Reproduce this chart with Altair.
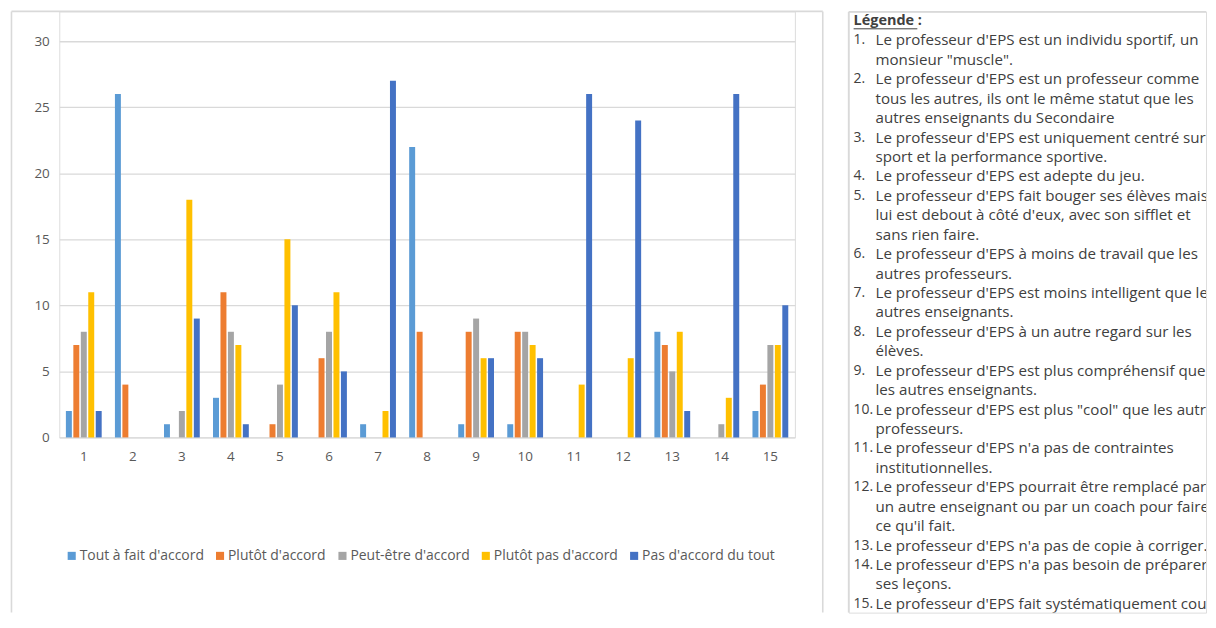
import altair as alt
import pandas as pd

# ---------------- data ----------------
items = [str(i) for i in range(1, 16)]
series = ["Tout à fait d'accord", "Plutôt d'accord", "Peut-être d'accord",
          "Plutôt pas d'accord", "Pas d'accord du tout"]
colors = ["#5B9BD5", "#ED7D31", "#A5A5A5", "#FFC000", "#4472C4"]

tout_a_fait = [2, 26, 1, 3, 0, 0, 1, 22, 1, 1, 0, 0, 8, 0, 2]
plutot = [7, 4, 0, 11, 1, 6, 0, 8, 8, 8, 0, 0, 7, 0, 4]
peut_etre = [8, 0, 2, 8, 4, 8, 0, 0, 9, 8, 0, 0, 5, 1, 7]
plutot_pas = [11, 0, 18, 7, 15, 11, 2, 0, 6, 7, 4, 6, 8, 3, 7]
pas_du_tout = [2, 0, 9, 1, 10, 5, 27, 0, 6, 6, 26, 24, 2, 26, 10]

y_ticks = [0, 5, 10, 15, 20, 25, 30]

legend_title = "Légende :"
statements = [
    ["Le professeur d'EPS est un individu sportif, un", 'monsieur "muscle".'],
    ["Le professeur d'EPS est un professeur comme", "tous les autres, ils ont le même statut que les",
     "autres enseignants du Secondaire"],
    ["Le professeur d'EPS est uniquement centré sur le", "sport et la performance sportive."],
    ["Le professeur d'EPS est adepte du jeu."],
    ["Le professeur d'EPS fait bouger ses élèves mais", "lui est debout à côté d'eux, avec son sifflet et",
     "sans rien faire."],
    ["Le professeur d'EPS à moins de travail que les", "autres professeurs."],
    ["Le professeur d'EPS est moins intelligent que les", "autres enseignants."],
    ["Le professeur d'EPS à un autre regard sur les", "élèves."],
    ["Le professeur d'EPS est plus compréhensif que", "les autres enseignants."],
    ['Le professeur d\'EPS est plus "cool" que les autres', "professeurs."],
    ["Le professeur d'EPS n'a pas de contraintes", "institutionnelles."],
    ["Le professeur d'EPS pourrait être remplacé par", "un autre enseignant ou par un coach pour faire",
     "ce qu'il fait."],
    ["Le professeur d'EPS n'a pas de copie à corriger."],
    ["Le professeur d'EPS n'a pas besoin de préparer", "ses leçons."],
    ["Le professeur d'EPS fait systématiquement cours", "dans un gymnase ou sur un stade."],
]

# ---------------- tables ----------------
values = [tout_a_fait, plutot, peut_etre, plutot_pas, pas_du_tout]
rows = []
for s, vals in zip(series, values):
    for it, v in zip(items, vals):
        rows.append({"item": it, "series": s, "value": v})
df = pd.DataFrame(rows)

lines = []
r = 1
for i, st in enumerate(statements):
    for j, ln in enumerate(st):
        lines.append({"row": r, "num": f"{i + 1}." if j == 0 else "", "text": ln})
        r += 1
lines_df = pd.DataFrame(lines)
nums_df = lines_df[lines_df["num"] != ""]
title_df = pd.DataFrame({"row": [0], "text": [legend_title]})
one = pd.DataFrame({"a": [0]})

FONT = "Open Sans"
GRID = "#D9D9D9"
BORDER = "#D9D9D9"
LABEL = "#595959"
TEXT = "#404040"

# ---------------- bar chart ----------------
bars = alt.Chart(df).mark_bar().encode(
    x=alt.X("item:O", sort=items,
            scale=alt.Scale(paddingInner=0.27, paddingOuter=0.135),
            axis=alt.Axis(title=None, labelAngle=0, ticks=False, domain=False, grid=False,
                          labelPadding=12, labelFontSize=13.5, labelColor=LABEL, labelFont=FONT)),
    xOffset=alt.XOffset("series:N", sort=series, scale=alt.Scale(paddingInner=0.2)),
    y=alt.Y("value:Q", scale=alt.Scale(domain=[0, 30], range=[428, 30]),
            axis=alt.Axis(title=None, values=y_ticks, ticks=False, domain=False,
                          gridColor=GRID, gridWidth=1.3, labelPadding=10,
                          labelFontSize=13.5, labelColor=LABEL, labelFont=FONT)),
    color=alt.Color("series:N", sort=series,
                    scale=alt.Scale(domain=series, range=colors),
                    legend=alt.Legend(title=None, orient="none", legendX=5.5, legendY=540,
                                      direction="horizontal", symbolType="square",
                                      symbolSize=66, symbolStrokeWidth=0,
                                      labelFontSize=14, labelColor=LABEL, labelFont=FONT,
                                      labelOffset=1, columnPadding=9, padding=0)),
)

def vrule(x, y0, y1):
    return alt.Chart(one).mark_rule(color=BORDER, strokeWidth=1.6).encode(
        x=alt.value(x), y=alt.value(y0), y2=alt.value(y1))

def hrule(y, x0, x1):
    return alt.Chart(one).mark_rule(color=BORDER, strokeWidth=1.6).encode(
        y=alt.value(y), x=alt.value(x0), x2=alt.value(x1))

chart1 = alt.layer(
    vrule(-48, 0, 604), vrule(767, 0, 604), hrule(0, -48, 767), bars
).properties(width=739, height=428)

# ---------------- text panel ----------------
yscale = alt.Scale(domain=[0, 31], range=[9.7, 614.8])
TXT = dict(align="left", baseline="middle", font=FONT, color=TEXT, clip=True)

title_t = alt.Chart(title_df).mark_text(fontSize=14.5, fontWeight="bold", **TXT).encode(
    x=alt.value(5), y=alt.Y("row:Q", scale=yscale, axis=None), text="text:N")

underline = alt.Chart(one).mark_rule(color=TEXT, strokeWidth=1).encode(
    x=alt.value(5), x2=alt.value(69), y=alt.value(17.5))

num_t = alt.Chart(nums_df).mark_text(fontSize=14, **TXT).encode(
    x=alt.value(5), y=alt.Y("row:Q", scale=yscale, axis=None), text="num:N")

line_t = alt.Chart(lines_df).mark_text(fontSize=15.2, **TXT).encode(
    x=alt.value(27), y=alt.Y("row:Q", scale=yscale, axis=None), text="text:N")

chart2 = alt.layer(
    vrule(0, 0.5, 604), hrule(0.5, 0, 359), title_t, underline, num_t, line_t
).properties(width=359, height=604)

chart = alt.hconcat(chart1, chart2, spacing=22).properties(
    padding={"left": 1.5, "top": 0, "right": 0, "bottom": 0}
).configure_view(stroke="transparent").configure(font=FONT)

chart.save("out.html", embed_options={"renderer": "svg", "actions": False})
